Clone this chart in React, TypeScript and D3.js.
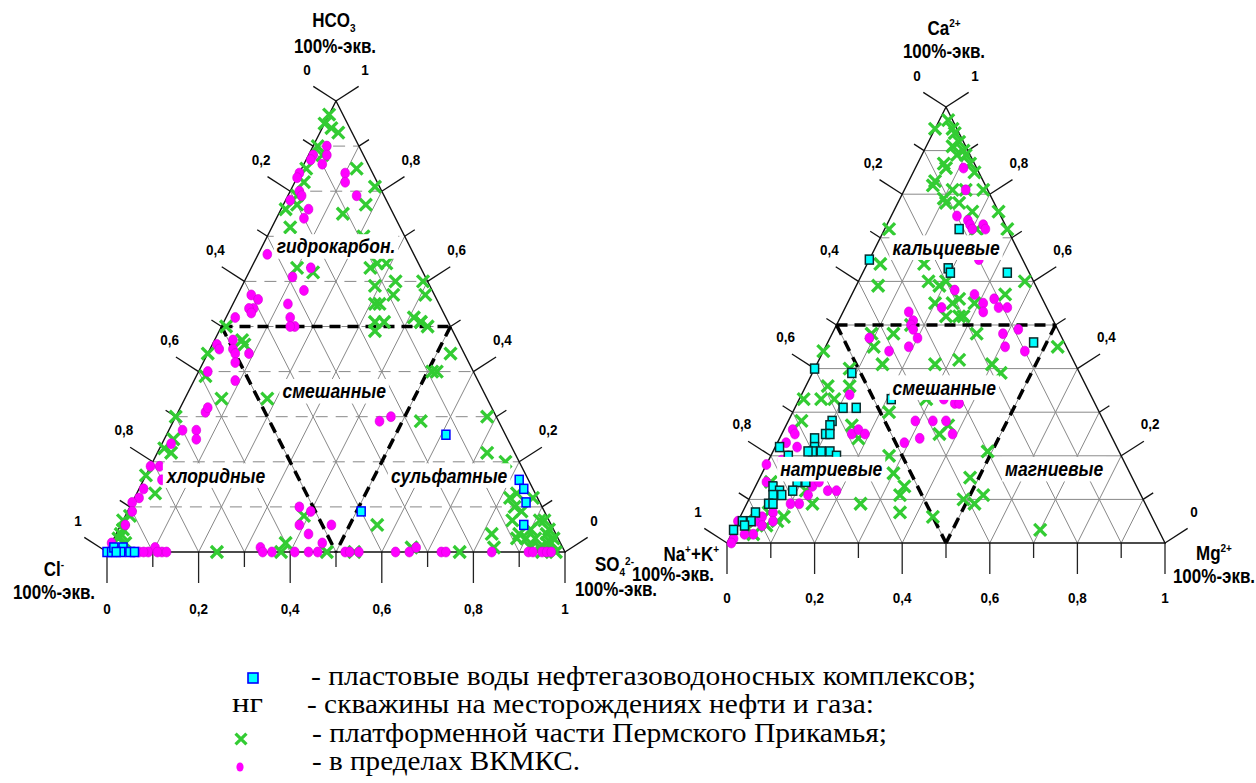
import React, { useEffect, useRef } from 'react';
import * as d3 from 'd3';

// tick labels, same on every side of both diagrams
const tickLabels = ['0', '0,2', '0,4', '0,6', '0,8', '1'];

// anion diagram, each point is [SO4, HCO3] share (Cl = 1 - SO4 - HCO3)
const anionWaters = [
  [0.0, 0.0], [0.01, 0.0], [0.01, 0.01], [0.03, 0.01], [0.03, 0.0], [0.05, 0.0], [0.06, 0.0], [0.02, 0.0],
  [0.61, 0.26], [0.82, 0.16], [0.84, 0.14], [0.86, 0.11], [0.88, 0.06], [0.51, 0.09],
];
const anionPlatform = [
  [0.0, 0.97], [0.0, 0.95], [0.02, 0.94], [0.04, 0.93], [0.01, 0.9], [0.03, 0.88], [0.01, 0.85], [0.02, 0.82],
  [0.02, 0.79], [0.03, 0.77], [0.01, 0.76], [0.04, 0.72], [0.12, 0.85], [0.18, 0.81], [0.18, 0.77], [0.14, 0.75],
  [0.21, 0.7], [0.1, 0.63], [0.14, 0.62], [0.01, 0.5], [0.26, 0.63], [0.29, 0.64], [0.33, 0.6], [0.34, 0.57],
  [0.29, 0.59], [0.32, 0.55], [0.35, 0.51], [0.39, 0.6], [0.41, 0.57], [0.43, 0.51], [0.45, 0.5], [0.27, 0.64],
  [0.06, 0.47], [0.07, 0.46], [0.0, 0.44], [0.02, 0.39], [0.08, 0.34], [0.18, 0.34], [0.0, 0.3], [0.01, 0.23],
  [0.02, 0.25], [0.03, 0.22], [0.0, 0.17], [0.04, 0.13], [0.01, 0.05], [0.01, 0.03], [0.0, 0.07], [0.01, 0.04],
  [0.03, 0.02], [0.01, 0.08], [0.24, 0.0], [0.39, 0.08], [0.38, 0.02], [0.38, 0.0], [0.48, 0.0], [0.54, 0.0],
  [0.56, 0.06], [0.66, 0.01], [0.77, 0.0], [0.82, 0.04], [0.84, 0.01], [0.88, 0.03], [0.53, 0.44], [0.51, 0.4],
  [0.52, 0.4], [0.54, 0.29], [0.68, 0.3], [0.72, 0.22], [0.77, 0.2], [0.83, 0.13], [0.84, 0.1], [0.87, 0.12],
  [0.91, 0.07], [0.9, 0.05], [0.94, 0.04], [0.96, 0.03], [0.94, 0.01], [0.98, 0.0], [0.96, 0.02], [0.9, 0.03],
  [0.92, 0.03], [0.88, 0.04], [0.41, 0.52], [0.43, 0.51], [0.33, 0.51], [0.34, 0.49], [0.31, 0.55], [0.86, 0.09],
  [0.92, 0.07], [0.94, 0.05], [0.95, 0.0], [0.92, 0.01], [0.95, 0.02], [0.85, 0.07], [0.82, 0.12],
];
const anionVkmks = [
  [0.03, 0.9], [0.04, 0.88], [0.01, 0.88], [0.01, 0.87], [0.04, 0.86], [0.0, 0.84], [0.0, 0.83], [0.02, 0.8],
  [0.03, 0.79], [0.01, 0.78], [0.06, 0.76], [0.06, 0.74], [0.1, 0.84], [0.11, 0.82], [0.15, 0.79], [0.02, 0.66],
  [0.13, 0.63], [0.1, 0.61], [0.14, 0.58], [0.03, 0.57], [0.05, 0.56], [0.05, 0.54], [0.04, 0.54], [0.05, 0.53],
  [0.12, 0.55], [0.14, 0.52], [0.16, 0.5], [0.15, 0.5], [0.02, 0.52], [0.01, 0.46], [0.02, 0.45], [0.04, 0.47],
  [0.05, 0.45], [0.06, 0.44], [0.09, 0.44], [0.07, 0.42], [0.02, 0.4], [0.09, 0.38], [0.06, 0.31], [0.06, 0.32],
  [0.03, 0.27], [0.06, 0.27], [0.07, 0.25], [0.02, 0.24], [0.0, 0.19], [0.02, 0.19], [0.04, 0.16], [0.01, 0.14],
  [0.01, 0.12], [0.0, 0.11], [0.01, 0.09], [0.01, 0.06], [0.0, 0.02], [0.1, 0.01], [0.12, 0.0], [0.13, 0.0],
  [0.07, 0.0], [0.09, 0.0], [0.06, 0.0], [0.08, 0.0], [0.11, 0.0], [0.33, 0.01], [0.34, 0.0], [0.36, 0.0],
  [0.41, 0.0], [0.44, 0.0], [0.46, 0.0], [0.46, 0.02], [0.46, 0.06], [0.42, 0.04], [0.39, 0.06], [0.37, 0.1],
  [0.4, 0.09], [0.52, 0.0], [0.53, 0.0], [0.55, 0.0], [0.63, 0.0], [0.66, 0.0], [0.67, 0.01], [0.73, 0.0],
  [0.74, 0.0], [0.84, 0.0], [0.92, 0.0], [0.95, 0.0], [0.93, 0.0], [0.96, 0.0], [0.97, 0.0], [0.45, 0.29],
  [0.47, 0.3],
];

// cation diagram, each point is [Mg, Ca] share (Na+K = 1 - Mg - Ca)
const cationWaters = [
  [0.17, 0.72], [0.0, 0.65], [0.19, 0.63], [0.2, 0.62], [0.33, 0.62], [0.47, 0.46], [0.0, 0.4], [0.09, 0.39],
  [0.21, 0.33], [0.11, 0.31], [0.14, 0.31], [0.1, 0.28], [0.1, 0.27], [0.1, 0.25], [0.11, 0.25], [0.08, 0.24],
  [0.09, 0.22], [0.09, 0.21], [0.11, 0.21], [0.13, 0.21], [0.08, 0.21], [0.01, 0.22], [0.04, 0.2], [0.15, 0.2],
  [0.09, 0.14], [0.11, 0.14], [0.04, 0.13], [0.06, 0.12], [0.05, 0.11], [0.07, 0.11], [0.09, 0.12], [0.05, 0.09],
  [0.06, 0.09], [0.03, 0.07], [0.03, 0.05], [0.01, 0.05], [0.02, 0.04], [0.0, 0.03],
];
const cationPlatform = [
  [0.02, 0.97], [0.04, 0.95], [0.0, 0.95], [0.05, 0.94], [0.07, 0.92], [0.06, 0.91], [0.09, 0.9], [0.08, 0.89],
  [0.1, 0.89], [0.12, 0.87], [0.14, 0.85], [0.06, 0.87], [0.07, 0.86], [0.06, 0.83], [0.06, 0.82], [0.11, 0.81],
  [0.14, 0.81], [0.18, 0.81], [0.1, 0.79], [0.11, 0.78], [0.14, 0.78], [0.18, 0.76], [0.24, 0.76], [0.21, 0.72],
  [0.28, 0.72], [0.01, 0.72], [0.03, 0.64], [0.05, 0.59], [0.13, 0.64], [0.16, 0.6], [0.19, 0.59], [0.2, 0.6],
  [0.2, 0.55], [0.25, 0.56], [0.29, 0.55], [0.35, 0.57], [0.38, 0.6], [0.24, 0.52], [0.27, 0.52], [0.24, 0.55],
  [0.09, 0.48], [0.14, 0.48], [0.11, 0.45], [0.0, 0.44], [0.08, 0.4], [0.15, 0.41], [0.27, 0.41], [0.32, 0.42],
  [0.4, 0.41], [0.43, 0.39], [0.33, 0.48], [0.53, 0.45], [0.28, 0.52], [0.17, 0.5], [0.05, 0.36], [0.1, 0.36],
  [0.01, 0.33], [0.05, 0.33], [0.08, 0.33], [0.03, 0.28], [0.15, 0.27], [0.18, 0.24], [0.36, 0.25], [0.37, 0.27],
  [0.22, 0.3], [0.29, 0.33], [0.27, 0.2], [0.3, 0.16], [0.34, 0.13], [0.34, 0.11], [0.26, 0.09], [0.36, 0.07],
  [0.44, 0.06], [0.48, 0.15], [0.49, 0.1], [0.53, 0.11], [0.52, 0.09], [0.49, 0.21], [0.7, 0.03], [0.15, 0.09],
  [0.12, 0.12], [0.1, 0.06], [0.09, 0.05], [0.07, 0.04], [0.03, 0.03], [0.03, 0.14], [0.05, 0.02], [0.06, 0.07],
  [0.04, 0.05],
];
const cationVkmks = [
  [0.11, 0.86], [0.14, 0.81], [0.15, 0.75], [0.18, 0.74], [0.19, 0.73], [0.22, 0.73], [0.23, 0.72], [0.2, 0.72],
  [0.25, 0.65], [0.23, 0.58], [0.28, 0.57], [0.31, 0.55], [0.33, 0.56], [0.35, 0.54], [0.37, 0.54], [0.32, 0.53],
  [0.22, 0.54], [0.15, 0.53], [0.17, 0.51], [0.17, 0.5], [0.18, 0.49], [0.2, 0.47], [0.19, 0.45], [0.15, 0.44],
  [0.09, 0.47], [0.39, 0.48], [0.41, 0.45], [0.46, 0.44], [0.42, 0.49], [0.33, 0.33], [0.36, 0.32], [0.37, 0.32],
  [0.11, 0.34], [0.29, 0.28], [0.33, 0.28], [0.36, 0.28], [0.39, 0.25], [0.32, 0.24], [0.29, 0.23], [0.16, 0.25],
  [0.17, 0.26], [0.19, 0.25], [0.02, 0.26], [0.03, 0.25], [0.02, 0.23], [0.0, 0.18], [0.02, 0.14], [0.1, 0.14],
  [0.13, 0.13], [0.17, 0.12], [0.19, 0.12], [0.13, 0.11], [0.12, 0.09], [0.1, 0.09], [0.07, 0.07], [0.04, 0.05],
  [0.0, 0.05], [0.03, 0.05], [0.01, 0.01], [0.01, 0.0], [0.05, 0.02], [0.14, 0.14], [0.03, 0.19], [0.05, 0.22],
  [0.04, 0.2], [0.08, 0.17], [0.02, 0.04], [0.05, 0.06], [0.06, 0.04], [0.03, 0.02], [0.08, 0.05],
];

const anionZones = ['гидрокарбон.', 'смешанные', 'хлоридные', 'сульфатные'];
const cationZones = ['кальциевые', 'смешанные', 'натриевые', 'магниевые'];

const legendLines = [
  '- пластовые воды нефтегазоводоносных комплексов;',
  '- скважины на месторождениях нефти и газа:',
  '- платформенной части Пермского Прикамья;',
  '- в пределах ВКМКС.',
];

const SANS = 'Arial, "Liberation Sans", sans-serif';
const SERIF = '"Times New Roman", "Liberation Serif", serif';
const GREEN = '#33cc33';
const MAGENTA = '#ff00ff';
const STRETCH = 1.14; // the source picture is stretched vertically

function drawTriangle(svg, cfg) {
  const x = d3.scaleLinear().domain([0, 1]).range([cfg.left, cfg.right]);
  const y = d3.scaleLinear().domain([0, 1]).range([cfg.bottom, cfg.top]);
  // b = base component, h = apex component
  const pt = (b, h) => [x(b + h / 2), y(h)];

  const g = svg.append('g');
  const seg = (p, q, stroke, width, dash) =>
    g
      .append('line')
      .attr('x1', p[0])
      .attr('y1', p[1])
      .attr('x2', q[0])
      .attr('y2', q[1])
      .attr('stroke', stroke)
      .attr('stroke-width', width)
      .attr('stroke-dasharray', dash || null);

  // grid
  d3.range(1, 10).forEach((i) => {
    const t = i / 10;
    seg(pt(t, 0), pt(t, 1 - t), '#888', 1);
    seg(pt(1 - t, 0), pt(0, 1 - t), '#888', 1);
    seg(pt(0, t), pt(1 - t, t), '#888', 1, cfg.rowDash);
  });

  // ticks
  d3.range(0, 11).forEach((i) => {
    const t = i / 10;
    const major = i % 2 === 0;
    const bl = major ? 31 : 15;
    const sl = major ? 27 : 12;
    const b0 = pt(t, 0);
    seg(b0, [b0[0], b0[1] + bl], '#222', 1.3);
    const l0 = pt(0, t);
    seg(l0, [l0[0] - 0.84 * sl, l0[1] - 0.54 * sl], '#111', 1.3);
    const r0 = pt(1 - t, t);
    seg(r0, [r0[0] + 0.84 * sl, r0[1] - 0.54 * sl], '#111', 1.3);
  });

  // outline
  g.append('path')
    .attr('d', d3.line()([pt(0, 0), pt(1, 0), pt(0, 1), pt(0, 0)]))
    .attr('fill', 'none')
    .attr('stroke', '#111')
    .attr('stroke-width', 1.4);

  // tick labels
  const tl = (p, text) =>
    g
      .append('text')
      .attr('transform', `translate(${p[0]},${p[1]}) scale(1,${STRETCH})`)
      .attr('dy', '0.36em')
      .attr('text-anchor', 'middle')
      .attr('font-family', SANS)
      .attr('font-weight', 'bold')
      .attr('font-size', 13.5)
      .text(text);
  d3.range(0, 6).forEach((j) => {
    const t = j / 5;
    const b = pt(t, 0);
    tl([b[0], b[1] + cfg.baseLabelGap], tickLabels[j]);
    const l = pt(0, t);
    tl([l[0] - 29, l[1] - 32], tickLabels[5 - j]);
    const r = pt(1 - t, t);
    tl([r[0] + 29, r[1] - 32], tickLabels[j]);
  });

  // class boundaries
  const thick = '11,7';
  seg(pt(0, 0.5), pt(0.5, 0.5), '#000', 3.5, thick);
  seg(pt(0, 0.5), pt(0.5, 0), '#000', 3.5, thick);
  seg(pt(0.5, 0.5), pt(0.5, 0), '#000', 3.5, thick);

  // points
  const xMark = d3.symbol().type(d3.symbolX).size(95)();
  g.append('g')
    .selectAll('path')
    .data(cfg.platform)
    .enter()
    .append('path')
    .attr('d', xMark)
    .attr('transform', (d) => `translate(${pt(d[0], d[1])})`)
    .attr('fill', 'none')
    .attr('stroke', GREEN)
    .attr('stroke-width', 3.3);

  g.append('g')
    .selectAll('ellipse')
    .data(cfg.vkmks)
    .enter()
    .append('ellipse')
    .attr('cx', (d) => pt(d[0], d[1])[0])
    .attr('cy', (d) => pt(d[0], d[1])[1])
    .attr('rx', 4.4)
    .attr('ry', 5)
    .attr('fill', MAGENTA)
    .attr('stroke', '#d400d4')
    .attr('stroke-width', 0.6);

  g.append('g')
    .selectAll('rect')
    .data(cfg.waters)
    .enter()
    .append('rect')
    .attr('x', (d) => pt(d[0], d[1])[0] - 4)
    .attr('y', (d) => pt(d[0], d[1])[1] - 4.5)
    .attr('width', 8)
    .attr('height', 9)
    .attr('fill', '#00ffff')
    .attr('stroke', cfg.squareStroke)
    .attr('stroke-width', 1.5);

  // zone names with white boxes
  const zonePos = [
    [0.5, 0.678],
    [0.496, 0.357],
    [0.238, 0.17],
    [0.747, 0.17],
  ];
  cfg.zones.forEach((name, i) => {
    const zg = g
      .append('g')
      .attr('transform', `translate(${x(zonePos[i][0])},${y(zonePos[i][1])}) scale(1,${STRETCH})`);
    const t = zg
      .append('text')
      .attr('dy', '0.36em')
      .attr('text-anchor', 'middle')
      .attr('font-family', SANS)
      .attr('font-weight', 'bold')
      .attr('font-style', 'italic')
      .attr('font-size', 17.5)
      .text(name);
    const bb = t.node().getBBox();
    zg.insert('rect', 'text')
      .attr('x', bb.x - 3)
      .attr('y', bb.y - 1)
      .attr('width', bb.width + 6)
      .attr('height', bb.height + 2)
      .attr('fill', '#fff');
  });
}

function title(svg, x, y, anchor, parts, size = 17) {
  const t = svg
    .append('text')
    .attr('transform', `translate(${x},${y}) scale(1,${STRETCH})`)
    .attr('text-anchor', anchor)
    .attr('font-family', SANS)
    .attr('font-weight', 'bold')
    .attr('font-size', size);
  parts.forEach((p) => {
    const s = t.append('tspan').text(p.text);
    if (p.sub) s.attr('font-size', 10).attr('dy', 4);
    if (p.sup) s.attr('font-size', 10).attr('dy', p.dy || -7);
    if (p.back) s.attr('dy', p.back);
  });
}

export default function App() {
  const ref = useRef(null);

  useEffect(() => {
    const svg = d3.select(ref.current);
    svg.selectAll('*').remove();

    drawTriangle(svg, {
      left: 107,
      right: 565,
      bottom: 552,
      top: 101,
      rowDash: '12,8',
      baseLabelGap: 56,
      platform: anionPlatform,
      vkmks: anionVkmks,
      waters: anionWaters,
      squareStroke: '#0000ff',
      zones: anionZones,
    });
    drawTriangle(svg, {
      left: 727,
      right: 1165,
      bottom: 543,
      top: 107,
      rowDash: null,
      baseLabelGap: 54,
      platform: cationPlatform,
      vkmks: cationVkmks,
      waters: cationWaters,
      squareStroke: '#0a2a2a',
      zones: cationZones,
    });

    // axis titles
    title(svg, 334, 27, 'middle', [{ text: 'HCO' }, { text: '3', sub: true }]);
    title(svg, 335, 53, 'middle', [{ text: '100%-экв.' }]);
    title(svg, 54, 576, 'middle', [{ text: 'Cl' }, { text: '-', sup: true }]);
    title(svg, 54, 599, 'middle', [{ text: '100%-экв.' }]);
    title(svg, 595, 571, 'start', [
      { text: 'SO' },
      { text: '4', sub: true },
      { text: '2-', sup: true, dy: -9 },
    ]);
    title(svg, 616, 596, 'middle', [{ text: '100%-экв.' }]);

    title(svg, 944, 35, 'middle', [{ text: 'Ca' }, { text: '2+', sup: true }]);
    title(svg, 944, 58, 'middle', [{ text: '100%-экв.' }]);
    title(svg, 719, 561, 'end', [
      { text: 'Na' },
      { text: '+', sup: true },
      { text: '+K', back: 7 },
      { text: '+', sup: true },
    ]);
    title(svg, 673, 581, 'middle', [{ text: '100%-экв.' }]);
    title(svg, 1196, 560, 'start', [{ text: 'Mg' }, { text: '2+', sup: true }]);
    title(svg, 1214, 583, 'middle', [{ text: '100%-экв.' }]);

    // legend
    const lg = svg.append('g');
    lg.append('rect')
      .attr('x', 248)
      .attr('y', 673)
      .attr('width', 10)
      .attr('height', 10)
      .attr('fill', '#00ffff')
      .attr('stroke', '#0000ff')
      .attr('stroke-width', 1.6);
    lg.append('text')
      .attr('x', 232)
      .attr('y', 712)
      .attr('font-family', SERIF)
      .attr('font-size', 27)
      .attr('textLength', 31)
      .attr('lengthAdjust', 'spacingAndGlyphs')
      .text('нг');
    lg.append('path')
      .attr('d', d3.symbol().type(d3.symbolX).size(80)())
      .attr('transform', 'translate(241,739)')
      .attr('fill', 'none')
      .attr('stroke', GREEN)
      .attr('stroke-width', 3.2);
    lg.append('ellipse')
      .attr('cx', 240)
      .attr('cy', 767)
      .attr('rx', 3.6)
      .attr('ry', 4.6)
      .attr('fill', MAGENTA);

    const lx = [311, 307, 312, 312];
    const lw = [665, 567, 575, 268];
    const ly = [685, 713, 742, 770];
    legendLines.forEach((s, i) => {
      lg.append('text')
        .attr('x', lx[i])
        .attr('y', ly[i])
        .attr('font-family', SERIF)
        .attr('font-size', 27)
        .attr('textLength', lw[i])
        .attr('lengthAdjust', 'spacingAndGlyphs')
        .text(s);
    });
  }, []);

  return (
    <svg
      ref={ref}
      width={1256}
      height={783}
      style={{ position: 'absolute', left: 0, top: 0, background: '#fff' }}
    />
  );
}
